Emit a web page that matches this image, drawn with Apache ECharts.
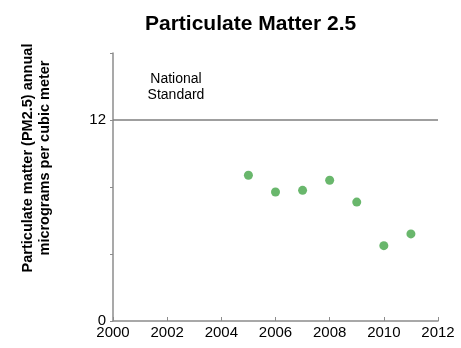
<!DOCTYPE html>
<html lang="en">
<head>
    <meta charset="UTF-8">
    <title>Particulate Matter 2.5</title>
    <script src="https://cdn.jsdelivr.net/npm/echarts@6/dist/echarts.min.js"></script>
    <style>
        body { margin: 0; background: #fff; }
    </style>
</head>
<body>

    <div id="main" style="width: 461px;height:348px;"></div>

    <script type="text/javascript">
        // data
        var years = [2005, 2006, 2007, 2008, 2009, 2010, 2011];
        var pm25 = [8.7, 7.7, 7.8, 8.4, 7.1, 4.5, 5.2];
        var nationalStandard = 12;
        var yLabels = [0, 12];

        var points = years.map(function (y, i) { return [y, pm25[i]]; });

        var myChart = echarts.init(document.getElementById('main'));

        var option = {
            backgroundColor: '#fff',
            animation: false,
            title: {
                text: 'Particulate Matter 2.5',
                left: 140,
                top: 9,
                textStyle: { fontFamily: 'Liberation Sans', fontSize: 21, fontWeight: 'bold', color: '#000' }
            },
            grid: { left: 113, right: 23, top: 53, bottom: 27 },
            xAxis: {
                type: 'value',
                min: 2000,
                max: 2012,
                interval: 2,
                axisLine: { lineStyle: { color: '#8c8c8c', width: 1.5 } },
                axisTick: { inside: true, length: 4, lineStyle: { color: '#8c8c8c' } },
                splitLine: { show: false },
                axisLabel: {
                    margin: 4,
                    fontFamily: 'Liberation Sans', fontSize: 15, color: '#000',
                    formatter: function (v) { return String(v); }
                }
            },
            yAxis: {
                type: 'value',
                min: 0,
                max: 16,
                interval: 4,
                axisLine: { show: true, lineStyle: { color: '#8c8c8c', width: 1.5 } },
                axisTick: { show: true, length: 3, lineStyle: { color: '#8c8c8c' } },
                splitLine: { show: false },
                axisLabel: {
                    margin: 7,
                    fontFamily: 'Liberation Sans', fontSize: 15, color: '#000',
                    formatter: function (v) { return yLabels.indexOf(v) >= 0 ? String(v) : ''; }
                }
            },
            graphic: [
                {
                    type: 'text',
                    x: 36, y: 158,
                    rotation: Math.PI / 2,
                    style: {
                        text: 'Particulate matter (PM2.5) annual\nmicrograms per cubic meter',
                        font: 'bold 14.5px "Liberation Sans"',
                        fill: '#000',
                        align: 'center',
                        verticalAlign: 'middle',
                        lineHeight: 17
                    }
                },
                {
                    type: 'text',
                    x: 176, y: 87,
                    style: {
                        text: 'National\nStandard',
                        font: '14px "Liberation Sans"',
                        fill: '#000',
                        align: 'center',
                        verticalAlign: 'middle',
                        lineHeight: 16
                    }
                }
            ],
            series: [{
                type: 'scatter',
                data: points,
                symbolSize: 9,
                itemStyle: { color: '#43a547' },
                markLine: {
                    silent: true,
                    symbol: ['none', 'none'],
                    label: { show: false },
                    lineStyle: { color: '#7f7f7f', width: 1.5, type: 'solid' },
                    data: [{ yAxis: nationalStandard }]
                }
            }]
        };

        myChart.setOption(option);
    </script>
</body>
</html>
